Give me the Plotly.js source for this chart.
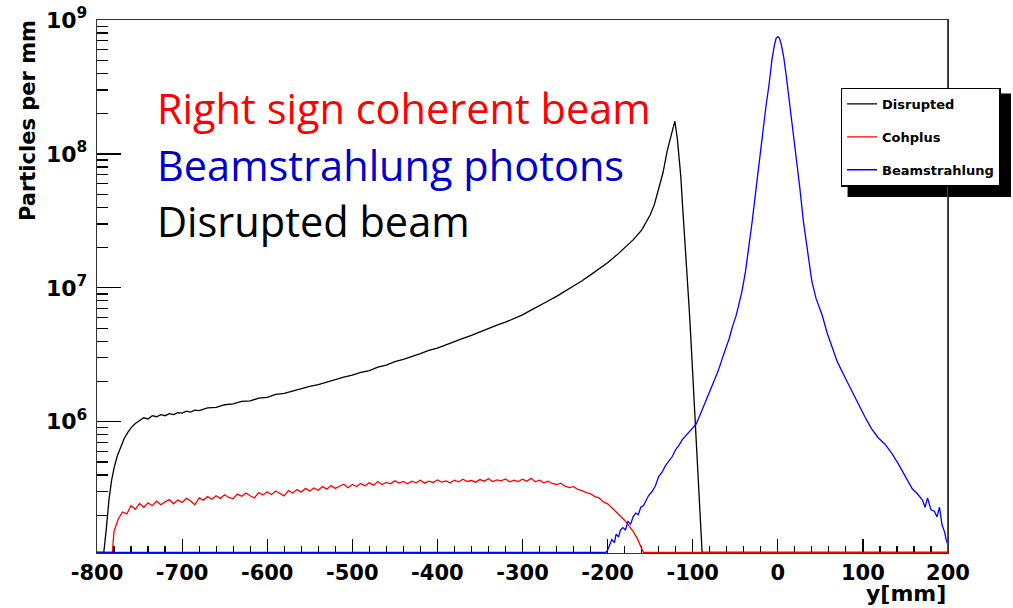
<!DOCTYPE html>
<html>
<head>
<meta charset="utf-8">
<script src="https://cdn.plot.ly/plotly-3.0.1.min.js"></script>
<style>html,body{margin:0;padding:0;background:#fff;}#plot{width:1013px;height:608px;}</style>
</head>
<body>
<div id="plot"></div>
<script>
// empty-bin level (drawn at the bottom of the log frame, as ROOT does)
const F = 1.06e5;

const xTickVals = [-800, -700, -600, -500, -400, -300, -200, -100, 0, 100, 200];
const xTickText = ['-800', '-700', '-600', '-500', '-400', '-300', '-200', '-100', '0', '100', '200'];
const yTickVals = [1e6, 1e7, 1e8, 1e9];
const yTickText = ['10<sup>6</sup>', '10<sup>7</sup>', '10<sup>8</sup>', '10<sup>9</sup>'];
const yMinorVals = [2e5,3e5,4e5,5e5,6e5,7e5,8e5,9e5,2e6,3e6,4e6,5e6,6e6,7e6,8e6,9e6,2e7,3e7,4e7,5e7,6e7,7e7,8e7,9e7,2e8,3e8,4e8,5e8,6e8,7e8,8e8,9e8];

const legendNames = ['Disrupted', 'Cohplus', 'Beamstrahlung'];

// Disrupted beam
const disruptedX = [-800,-792,-789,-786,-783,-780,-776,-772,-768,-764,-760,-755,-750,-745,-740,-735,-730,-725,-720,-715,-710,-705,-700,-695,-690,-685,-680,-670,-660,-650,-640,-630,-620,-610,-600,-590,-580,-570,-560,-550,-540,-530,-520,-510,-500,-490,-480,-470,-460,-450,-440,-430,-420,-410,-400,-390,-380,-370,-360,-350,-340,-330,-320,-310,-300,-290,-280,-270,-260,-250,-240,-230,-220,-210,-200,-190,-180,-170,-160,-155,-150,-145,-140,-135,-130,-125,-121,-118,-116,-114,-112,-110,-108,-106,-104,-102,-100,-98,-96,-94,-92,-90,-89,-88,200];
const disruptedY = [F,F,1.6e5,2.6e5,3.6e5,4.5e5,5.6e5,6.5e5,7.5e5,8.3e5,9.0e5,9.7e5,1.02e6,1.07e6,1.05e6,1.11e6,1.09e6,1.13e6,1.11e6,1.15e6,1.13e6,1.17e6,1.16e6,1.20e6,1.18e6,1.22e6,1.21e6,1.27e6,1.28e6,1.34e6,1.36e6,1.42e6,1.43e6,1.50e6,1.52e6,1.60e6,1.63e6,1.70e6,1.75e6,1.84e6,1.89e6,1.98e6,2.05e6,2.15e6,2.23e6,2.34e6,2.41e6,2.56e6,2.65e6,2.81e6,2.92e6,3.09e6,3.23e6,3.41e6,3.55e6,3.75e6,3.94e6,4.19e6,4.41e6,4.69e6,4.94e6,5.26e6,5.54e6,5.86e6,6.28e6,6.82e6,7.33e6,7.97e6,8.63e6,9.42e6,1.03e7,1.13e7,1.25e7,1.38e7,1.54e7,1.74e7,1.98e7,2.28e7,2.70e7,3.05e7,3.50e7,4.20e7,5.50e7,7.20e7,1.05e8,1.41e8,1.76e8,1.29e8,9.3e7,6.8e7,4.2e7,2.75e7,1.78e7,1.12e7,6.8e6,4.0e6,2.35e6,1.35e6,7.9e5,4.5e5,2.5e5,1.45e5,1.07e5,F,F];

// Cohplus (right sign coherent beam)
const cohplusX = [-800,-782,-780,-775,-770,-765,-760,-755,-750,-745,-740,-735,-730,-725,-720,-715,-710,-705,-700,-695,-690,-685,-680,-675,-670,-665,-660,-655,-650,-645,-640,-635,-630,-625,-620,-615,-610,-605,-600,-595,-590,-585,-580,-575,-570,-565,-560,-555,-550,-545,-540,-535,-530,-525,-520,-515,-510,-505,-500,-495,-490,-485,-480,-475,-470,-465,-460,-455,-450,-445,-440,-435,-430,-425,-420,-415,-410,-405,-400,-395,-390,-385,-380,-375,-370,-365,-360,-355,-350,-345,-340,-335,-330,-325,-320,-315,-310,-305,-300,-295,-290,-285,-280,-275,-270,-265,-260,-255,-250,-245,-240,-235,-230,-225,-220,-215,-210,-205,-200,-195,-190,-185,-180,-175,-170,-165,-160,-158,200];
const cohplusY = [F,F,1.52e5,1.88e5,2.12e5,2.05e5,2.36e5,2.22e5,2.45e5,2.30e5,2.48e5,2.36e5,2.55e5,2.40e5,2.52e5,2.62e5,2.44e5,2.60e5,2.50e5,2.68e5,2.56e5,2.40e5,2.70e5,2.60e5,2.76e5,2.64e5,2.80e5,2.68e5,2.85e5,2.72e5,2.66e5,2.88e5,2.78e5,2.94e5,2.80e5,2.70e5,2.96e5,2.84e5,3.00e5,2.86e5,3.04e5,2.90e5,2.80e5,3.06e5,2.94e5,3.12e5,2.98e5,3.18e5,3.04e5,3.20e5,3.08e5,3.28e5,3.14e5,3.34e5,3.18e5,3.30e5,3.42e5,3.22e5,3.40e5,3.28e5,3.46e5,3.32e5,3.50e5,3.36e5,3.58e5,3.40e5,3.52e5,3.44e5,3.62e5,3.48e5,3.58e5,3.44e5,3.60e5,3.50e5,3.66e5,3.48e5,3.60e5,3.52e5,3.68e5,3.54e5,3.62e5,3.50e5,3.66e5,3.56e5,3.72e5,3.58e5,3.64e5,3.54e5,3.70e5,3.60e5,3.76e5,3.58e5,3.68e5,3.62e5,3.74e5,3.56e5,3.66e5,3.58e5,3.72e5,3.60e5,3.78e5,3.56e5,3.66e5,3.50e5,3.60e5,3.46e5,3.40e5,3.48e5,3.30e5,3.22e5,3.28e5,3.12e5,3.06e5,2.96e5,2.90e5,2.76e5,2.70e5,2.52e5,2.44e5,2.28e5,2.14e5,1.98e5,1.84e5,1.66e5,1.52e5,1.34e5,1.12e5,F,F];

// Beamstrahlung photons
const beamX = [-800,-202,-200,-198,-195,-192,-190,-187,-185,-182,-179,-176,-173,-170,-167,-164,-161,-158,-155,-152,-148,-144,-140,-136,-132,-128,-124,-120,-116,-112,-108,-104,-100,-96,-92,-88,-84,-80,-75,-70,-65,-60,-57,-53,-49,-46,-42,-38,-34,-30,-26,-22,-18,-14,-10,-7,-4,-2,0,2,4,7,10,14,18,22,26,30,35,40,45,52,58,64,70,79,87,95,102,110,118,126,134,142,150,158,164,170,173,176,180,184,187,190,193,196,198,200];
const beamY = [F,F,1.10e5,1.18e5,1.32e5,1.25e5,1.45e5,1.38e5,1.55e5,1.62e5,1.56e5,1.80e5,1.72e5,1.95e5,2.08e5,2.02e5,2.30e5,2.36e5,2.55e5,2.80e5,3.0e5,3.3e5,3.9e5,4.2e5,4.7e5,5.1e5,5.5e5,6.2e5,6.7e5,7.4e5,7.9e5,8.4e5,8.9e5,9.6e5,1.1e6,1.27e6,1.45e6,1.7e6,2.0e6,2.4e6,3.0e6,3.7e6,4.2e6,5.2e6,6.2e6,7.4e6,9.5e6,1.32e7,2.0e7,3.16e7,5.2e7,8.5e7,1.45e8,2.24e8,3.4e8,5.0e8,6.5e8,7.3e8,7.5e8,7.3e8,6.6e8,5.25e8,3.8e8,2.37e8,1.55e8,8.9e7,5.5e7,3.16e7,1.8e7,1.12e7,8.3e6,6.3e6,4.6e6,3.55e6,2.8e6,2.14e6,1.7e6,1.33e6,1.1e6,8.9e5,7.6e5,6.8e5,5.8e5,4.8e5,3.9e5,3.16e5,2.9e5,2.6e5,2.3e5,2.7e5,2.2e5,2.15e5,1.95e5,2.3e5,1.7e5,1.5e5,1.3e5,1.2e5];

const labelTexts = ['Right sign coherent beam', 'Beamstrahlung photons', 'Disrupted beam'];

const boldFont = {family: 'DejaVu Sans', weight: 700, color: '#000'};

const traces = [
  {x: disruptedX, y: disruptedY, name: legendNames[0], legendgroup: 'a', mode: 'lines', line: {color: '#000000', width: 1.3}},
  {x: cohplusX, y: cohplusY, name: legendNames[1], legendgroup: 'b', mode: 'lines', line: {color: '#ff0000', width: 1.3}},
  {x: beamX, y: beamY, name: legendNames[2], legendgroup: 'c', mode: 'lines', line: {color: '#0000ff', width: 1.3}}
];

const layout = {
  width: 1013, height: 608,
  margin: {l: 97, r: 63, t: 20, b: 55},
  paper_bgcolor: '#ffffff', plot_bgcolor: '#ffffff',
  showlegend: true,
  legend: {
    x: 0.874, y: 0.873, xanchor: 'left', yanchor: 'top',
    bgcolor: '#ffffff', bordercolor: '#000000', borderwidth: 1.3,
    font: Object.assign({}, boldFont, {size: 13}),
    traceorder: 'grouped', tracegroupgap: 13
  },
  xaxis: {
    range: [-800, 200], tickmode: 'array', tickvals: xTickVals, ticktext: xTickText,
    ticks: 'inside', ticklen: 14, tickwidth: 1.2, tickcolor: '#000',
    minor: {dtick: 20, ticks: 'inside', ticklen: 7, tickwidth: 1.2, tickcolor: '#000', showgrid: false},
    showline: true, mirror: true, linecolor: '#333', linewidth: 1.3,
    showgrid: false, zeroline: false, layer: 'below traces',
    tickfont: Object.assign({}, boldFont, {size: 21}),
    ticklabelstandoff: 0
  },
  yaxis: {
    type: 'log', range: [5.02, 9.0], tickmode: 'array', tickvals: yTickVals, ticktext: yTickText,
    ticks: 'inside', ticklen: 24, tickwidth: 1.2, tickcolor: '#000',
    minor: {tickmode: 'array', tickvals: yMinorVals, ticks: 'inside', ticklen: 11, tickwidth: 1.2, tickcolor: '#000', showgrid: false},
    showline: true, mirror: true, linecolor: '#333', linewidth: 1.3,
    showgrid: false, zeroline: false, layer: 'below traces',
    tickfont: Object.assign({}, boldFont, {size: 22}),
    ticklabelstandoff: 4
  },
  shapes: [
    {type: 'rect', xref: 'paper', yref: 'paper', x0: 0.882, x1: 1.074, y0: 0.668, y1: 0.862, fillcolor: '#000', line: {width: 0}, layer: 'above'},
    {type: 'line', xref: 'x', yref: 'paper', x0: 200, x1: 200, y0: 0, y1: 1, line: {color: '#ff0000', width: 2}}
  ],
  annotations: [
    {text: labelTexts[0], xref: 'paper', yref: 'paper', x: 0.068, y: 0.835, xanchor: 'left', yanchor: 'middle', showarrow: false, font: {family: 'Open Sans', size: 41.5, color: '#ff0000'}},
    {text: labelTexts[1], xref: 'paper', yref: 'paper', x: 0.068, y: 0.728, xanchor: 'left', yanchor: 'middle', showarrow: false, font: {family: 'Open Sans', size: 41.5, color: '#0000c8'}},
    {text: labelTexts[2], xref: 'paper', yref: 'paper', x: 0.068, y: 0.622, xanchor: 'left', yanchor: 'middle', showarrow: false, font: {family: 'Open Sans', size: 41.5, color: '#000000'}},
    {text: 'Particles per mm', xref: 'paper', yref: 'paper', x: -0.081, y: 0.8105, xanchor: 'center', yanchor: 'middle', textangle: -90, showarrow: false, font: Object.assign({}, boldFont, {size: 21})},
    {text: 'y[mm]', xref: 'paper', yref: 'paper', x: 1.0, y: -0.076, xanchor: 'right', yanchor: 'middle', showarrow: false, font: Object.assign({}, boldFont, {size: 22})}
  ]
};

Plotly.newPlot('plot', traces, layout, {displayModeBar: false, staticPlot: true});
</script>
</body>
</html>
